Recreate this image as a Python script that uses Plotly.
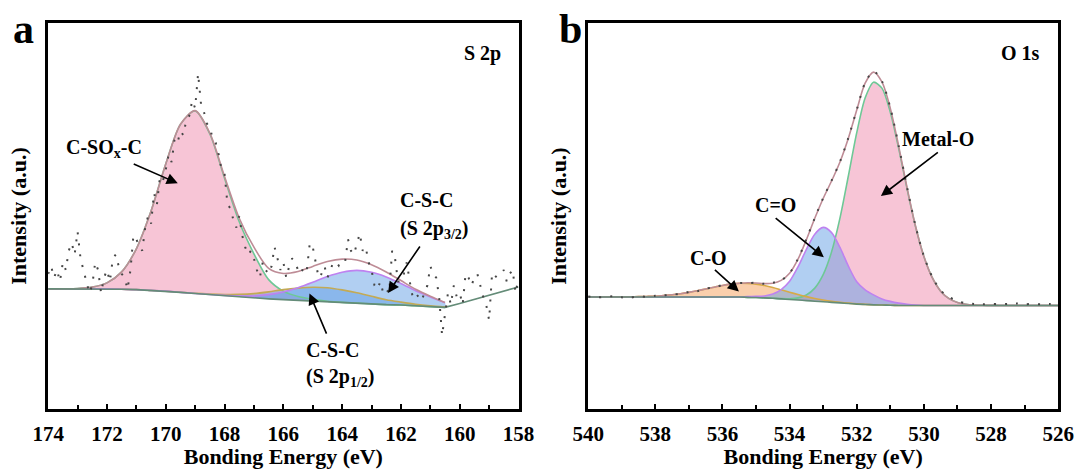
import numpy as np
import plotly.graph_objects as go

FONT = "Liberation Serif"

# ---------------- Panel a : S 2p ----------------
energy_a = np.round(np.arange(174.0, 157.99, -0.5), 2)          # 174 -> 158
n_fit_a = 28                                                      # fit range 174 -> 160.5
bg_a = [0.311, 0.311, 0.311, 0.311, 0.311, 0.310, 0.309, 0.307, 0.305, 0.302,
        0.299, 0.296, 0.293, 0.290, 0.287, 0.285, 0.283, 0.281, 0.279, 0.277,
        0.275, 0.274, 0.272, 0.270, 0.269, 0.267, 0.265, 0.263, 0.273, 0.284,
        0.294, 0.305, 0.316]
sox_a = [0.0, 0.0003, 0.001, 0.0045, 0.0155, 0.045, 0.106, 0.206, 0.330, 0.436,
         0.474, 0.417, 0.305, 0.195, 0.115, 0.050, 0.022, 0.010, 0.005, 0.002,
         0.001, 0.0, 0.0, 0.0, 0.0, 0.0, 0.0, 0.0]
s2p32_a = [0.0, 0.0, 0.0, 0.0, 0.0, 0.0, 0.0, 0.0, 0.0, 0.0,
           0.0, 0.0005, 0.001, 0.0024, 0.0054, 0.011, 0.020, 0.033, 0.049, 0.066,
           0.079, 0.085, 0.082, 0.072, 0.056, 0.039, 0.025, 0.012]
s2p12_a = [0.0, 0.0, 0.0, 0.0, 0.0, 0.0, 0.0, 0.0, 0.0, 0.0002,
           0.0006, 0.0016, 0.0035, 0.0067, 0.0117, 0.0183, 0.026, 0.032, 0.0363, 0.037,
           0.0333, 0.027, 0.0198, 0.0129, 0.0076, 0.004, 0.0019, 0.0008]
energy_a_raw = np.round(np.arange(174.0, 157.99, -0.1), 2)       # 174 -> 158
raw_a = [0.35, 0.37, 0.34, 0.36, 0.33, 0.38, 0.36, 0.41, 0.43, 0.40,
         0.46, 0.39, 0.36, 0.33, 0.30, 0.32, 0.38, 0.36, 0.30, 0.34,
         0.36, 0.33, 0.39, 0.40, 0.37, 0.35, 0.34, 0.31, 0.36, 0.45,
         0.44, 0.42, 0.41, 0.47, 0.50, 0.48, 0.56, 0.53, 0.60, 0.59,
         0.62, 0.66, 0.64, 0.70, 0.69, 0.72, 0.71, 0.75, 0.76, 0.80,
         0.78, 0.87, 0.79, 0.77, 0.74, 0.73, 0.70, 0.69, 0.66, 0.62,
         0.61, 0.53, 0.52, 0.49, 0.47, 0.50, 0.45, 0.42, 0.40, 0.41,
         0.39, 0.36, 0.34, 0.38, 0.36, 0.35, 0.37, 0.42, 0.39, 0.36,
         0.38, 0.34, 0.37, 0.39, 0.38, 0.36, 0.35, 0.37, 0.36, 0.43,
         0.42, 0.38, 0.34, 0.35, 0.37, 0.34, 0.36, 0.38, 0.38, 0.37,
         0.37, 0.38, 0.44, 0.41, 0.40, 0.43, 0.455, 0.41, 0.42, 0.38,
         0.36, 0.32, 0.31, 0.33, 0.30, 0.31, 0.30, 0.41, 0.39, 0.33,
         0.33, 0.35, 0.38, 0.33, 0.29, 0.30, 0.29, 0.28, 0.30, 0.32,
         0.37, 0.35, 0.34, 0.29, 0.19, 0.24, 0.30, 0.27, 0.32, 0.29,
         0.30, 0.27, 0.35, 0.34, 0.32, 0.34, 0.35, 0.32, 0.29, 0.27,
         0.23, 0.35, 0.34, 0.35, 0.35, 0.36, 0.33, 0.35, 0.36, 0.30, 0.34]

# ---------------- Panel b : O 1s ----------------
energy_b = np.round(np.arange(540.0, 525.99, -0.25), 2)         # 540 -> 526
bg_b = [0.290] * 19 + [0.289, 0.2885, 0.2875, 0.2865, 0.285, 0.2835, 0.282, 0.2805,
                       0.279, 0.2775, 0.276, 0.2745, 0.273, 0.2715, 0.2705, 0.2695,
                       0.269, 0.2685, 0.268] + [0.268] * 19
metal_b = [0.0] * 22 + [0.0002, 0.0006, 0.002, 0.0056, 0.0146, 0.0339, 0.0704, 0.131,
                        0.220, 0.331, 0.445, 0.536, 0.578, 0.563, 0.501, 0.407, 0.302,
                        0.205, 0.127, 0.072, 0.037, 0.0176, 0.0076, 0.003, 0.0011,
                        0.0004, 0.0001] + [0.0] * 8
cdo_b = [0.0] * 19 + [0.002, 0.003, 0.005, 0.011, 0.024, 0.047, 0.086, 0.133, 0.174,
                      0.193, 0.181, 0.144, 0.097, 0.058, 0.038, 0.026, 0.016, 0.010,
                      0.006, 0.003, 0.001] + [0.0] * 17
cso_b = [0.0, 0.0, 0.0001, 0.0001, 0.0002, 0.0004, 0.0008, 0.0013, 0.002, 0.0036,
         0.0056, 0.0083, 0.0118, 0.016, 0.0207, 0.0254, 0.0298, 0.0333, 0.0354, 0.036,
         0.0348, 0.0321, 0.0281, 0.0235, 0.0188, 0.0143, 0.0104, 0.0072, 0.0047, 0.0029,
         0.0018, 0.001, 0.0005, 0.0002, 0.0001] + [0.0] * 22
raw_b = [0.291, 0.289, 0.290, 0.292, 0.289, 0.288, 0.292, 0.290, 0.293, 0.294,
         0.297, 0.297, 0.303, 0.305, 0.312, 0.314, 0.321, 0.322, 0.326, 0.326,
         0.327, 0.324, 0.327, 0.333, 0.352, 0.389, 0.440, 0.495, 0.547, 0.592,
         0.641, 0.703, 0.776, 0.846, 0.876, 0.850, 0.781, 0.682, 0.574, 0.475,
         0.396, 0.342, 0.307, 0.290, 0.279, 0.274, 0.272, 0.271, 0.272, 0.271,
         0.272, 0.273, 0.271, 0.272, 0.271, 0.272, 0.271]

# ---------------- styles ----------------
PINK_FILL = "rgba(240,150,180,0.55)"
BLUE_FILL = "rgba(100,160,230,0.50)"
ORANGE_FILL = "rgba(245,160,90,0.50)"
GREEN_LINE = "rgb(110,200,150)"
VIOLET_LINE = "rgb(190,130,240)"
GOLD_LINE = "rgb(215,170,70)"
OLIVE_LINE = "rgb(195,170,85)"
ENV_LINE = "rgb(190,140,150)"
BG_LINE = "rgb(100,140,120)"
RAW_COLOR = "rgb(70,70,70)"

fig = go.Figure()


def add_fill(x, base, comp, color, xa, ya):
    top = [b + c for b, c in zip(base, comp)]
    xs = list(x) + list(x)[::-1]
    ys = top + list(base)[::-1]
    fig.add_trace(go.Scatter(x=xs, y=ys, mode="lines", fill="toself", fillcolor=color,
                             line=dict(width=0, shape="spline", smoothing=0.8),
                             hoverinfo="skip", showlegend=False, xaxis=xa, yaxis=ya))
    return top


def add_line(x, y, color, xa, ya, shape="spline", width=1.6, dash=None):
    fig.add_trace(go.Scatter(x=list(x), y=list(y), mode="lines",
                             line=dict(color=color, width=width, shape=shape,
                                       smoothing=0.8, dash=dash),
                             hoverinfo="skip", showlegend=False, xaxis=xa, yaxis=ya))


# ----- panel a traces -----
e_fit_a = energy_a[:n_fit_a]
bg_fit_a = bg_a[:n_fit_a]
top_sox = add_fill(e_fit_a, bg_fit_a, sox_a, PINK_FILL, "x", "y")
top_12 = add_fill(e_fit_a, bg_fit_a, s2p12_a, BLUE_FILL, "x", "y")
top_32 = add_fill(e_fit_a, bg_fit_a, s2p32_a, BLUE_FILL, "x", "y")
add_line(e_fit_a, top_sox, GREEN_LINE, "x", "y")
add_line(e_fit_a, top_12, OLIVE_LINE, "x", "y")
add_line(e_fit_a, top_32, VIOLET_LINE, "x", "y")
env_a = [b + p + q + r for b, p, q, r in zip(bg_fit_a, sox_a, s2p32_a, s2p12_a)]
add_line(e_fit_a, env_a, ENV_LINE, "x", "y")
add_line(energy_a, bg_a, BG_LINE, "x", "y", shape="linear")
add_line(energy_a_raw, raw_a, RAW_COLOR, "x", "y", shape="linear", width=2, dash="2px,9px")

# ----- panel b traces -----
top_metal = add_fill(energy_b, bg_b, metal_b, PINK_FILL, "x2", "y2")
top_cso = add_fill(energy_b, bg_b, cso_b, ORANGE_FILL, "x2", "y2")
top_cdo = add_fill(energy_b, bg_b, cdo_b, BLUE_FILL, "x2", "y2")
add_line(energy_b, top_metal, GREEN_LINE, "x2", "y2")
add_line(energy_b, top_cso, GOLD_LINE, "x2", "y2")
add_line(energy_b, top_cdo, VIOLET_LINE, "x2", "y2")
env_b = [b + m + c + o for b, m, c, o in zip(bg_b, metal_b, cdo_b, cso_b)]
add_line(energy_b, env_b, ENV_LINE, "x2", "y2")
add_line(energy_b, bg_b, BG_LINE, "x2", "y2")
add_line(energy_b, raw_b, RAW_COLOR, "x2", "y2", shape="spline", width=2, dash="2px,9px")

# ----- axes -----
tickfont = dict(family=FONT, size=21, color="black", weight="bold")
titlefont = dict(family=FONT, size=22, color="black", weight="bold")


def xaxis_cfg(domain, rng, anchor):
    return dict(domain=domain, range=rng, anchor=anchor, dtick=2, tick0=rng[1],
                ticks="inside", ticklen=5, tickwidth=2, tickcolor="black",
                minor=dict(dtick=1, ticks="inside", ticklen=4, tickwidth=2, tickcolor="black"),
                showline=True, linecolor="black", linewidth=2.5, mirror=True,
                showgrid=False, zeroline=False, tickfont=tickfont, ticklabelstandoff=4,
                title=dict(text="Bonding Energy (eV)", font=titlefont, standoff=4),
                automargin=False)


def yaxis_cfg(anchor):
    return dict(domain=[0.1286, 0.9501], range=[0, 1], anchor=anchor,
                showticklabels=False, ticks="", showline=True, linecolor="black",
                linewidth=2.5, mirror=True, showgrid=False, zeroline=False,
                title=dict(text="Intensity (a.u.)", font=titlefont, standoff=13),
                automargin=False)


annot_font = dict(family=FONT, size=20, color="black", weight="bold")


def text(x, y, s, xa, ya, xanchor="center", size=None):
    f = dict(annot_font)
    if size:
        f["size"] = size
    return dict(x=x, y=y, xref=xa, yref=ya, text=s, showarrow=False, font=f,
                xanchor=xanchor, yanchor="middle")


def arrow(x_head, y_head, x_tail, y_tail, xa, ya):
    return dict(x=x_head, y=y_head, ax=x_tail, ay=y_tail, xref=xa, yref=ya,
                axref=xa, ayref=ya, text="", showarrow=True, arrowhead=2,
                arrowsize=1.4, arrowwidth=1.6, arrowcolor="black",
                standoff=0, startstandoff=0)


annotations = [
    # panel labels
    dict(x=0.0222, y=0.938, xref="paper", yref="paper", text="a", showarrow=False,
         font=dict(family=FONT, size=42, color="black", weight="bold"),
         xanchor="center", yanchor="middle"),
    dict(x=0.5278, y=0.938, xref="paper", yref="paper", text="b", showarrow=False,
         font=dict(family=FONT, size=42, color="black", weight="bold"),
         xanchor="center", yanchor="middle"),
    # panel a
    text(159.24, 0.923, "S 2p", "x", "y"),
    text(172.10, 0.676, "C-SO<sub>x</sub>-C", "x", "y"),
    arrow(169.59, 0.585, 171.14, 0.637, "x", "y"),
    text(162.10, 0.542, "C-S-C", "x", "y", xanchor="left"),
    text(162.10, 0.464, "(S 2p<sub>3/2</sub>)", "x", "y", xanchor="left"),
    arrow(162.44, 0.300, 161.32, 0.425, "x", "y"),
    text(165.30, 0.152, "C-S-C", "x", "y", xanchor="left"),
    text(165.30, 0.080, "(S 2p<sub>1/2</sub>)", "x", "y", xanchor="left"),
    arrow(165.11, 0.299, 164.51, 0.191, "x", "y"),
    # panel b
    text(527.13, 0.923, "O 1s", "x2", "y2"),
    text(529.59, 0.701, "Metal-O", "x2", "y2"),
    arrow(531.28, 0.552, 529.54, 0.668, "x2", "y2"),
    text(534.41, 0.529, "C=O", "x2", "y2"),
    arrow(532.98, 0.393, 534.46, 0.4975, "x2", "y2"),
    text(536.42, 0.392, "C-O", "x2", "y2"),
    arrow(535.51, 0.304, 536.27, 0.364, "x2", "y2"),
]

fig.update_layout(
    width=1080, height=469,
    margin=dict(l=0, r=0, t=0, b=0),
    paper_bgcolor="white", plot_bgcolor="white",
    showlegend=False,
    xaxis=xaxis_cfg([0.0446, 0.4801], [174, 158], "y"),
    yaxis=yaxis_cfg("x"),
    xaxis2=xaxis_cfg([0.5446, 0.9798], [540, 526], "y2"),
    yaxis2=yaxis_cfg("x2"),
    annotations=annotations,
)

fig.write_html("out.html")
